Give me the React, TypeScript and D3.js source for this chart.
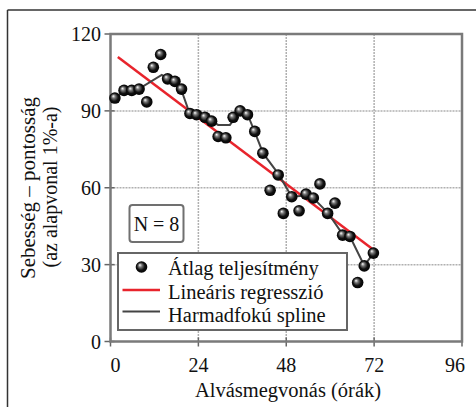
import React from "react";
import * as d3 from "d3";

const hours = [1.2, 3.7, 5.8, 7.8, 9.9, 11.7, 13.7, 15.6, 17.6, 19.4, 21.7, 23.5, 25.8, 27.6, 29.4, 31.5, 33.5, 35.4, 37.4, 39.4, 41.6, 43.6, 45.8, 47.2, 49.5, 51.5, 53.4, 55.4, 57.2, 59.3, 61.3, 63.4, 65.4, 67.5, 69.3, 71.8];
const performance = [95, 98, 98, 98.5, 93.5, 107, 112, 102.5, 101.5, 98.5, 89, 88.5, 87.5, 86, 80, 79.5, 87.5, 90, 88.5, 82, 73.5, 59, 65, 50, 56.5, 51, 57.5, 56, 61.5, 50, 54, 41.5, 41, 23, 29.5, 34.5];

const splineHours = [1.2, 3.5, 8, 14, 15.6, 17.6, 19.4, 21.6, 23.5, 25.8, 27.6, 29.4, 32.6, 35.4, 37.4, 39.2, 41.7, 45.8, 49.5, 53.4, 55.4, 59.5, 63.5, 65.4, 69.3, 71.8];
const splineValues = [95, 97.5, 98.8, 104, 102.7, 101.7, 98, 89, 88.5, 87.7, 86, 84.5, 84.5, 89.8, 88.7, 82.5, 73.4, 65.5, 56.5, 57, 56, 50, 41.6, 41, 29.6, 34.4];

const regressionHours = [2, 72];
const regressionValues = [111, 35.6];

const xTicks = [0, 24, 48, 72, 96];
const yTicks = [0, 30, 60, 90, 120];

const legendLabels = ["Átlag teljesítmény", "Lineáris regresszió", "Harmadfokú spline"];
const xLabel = "Alvásmegvonás (órák)";
const yLabel1 = "Sebesség – pontosság";
const yLabel2 = "(az alapvonal 1%-a)";
const nLabel = "N = 8";

const FONT = '"Liberation Serif", "Times New Roman", "DejaVu Serif", serif';

export default function App() {
  const x = d3.scaleLinear().domain([0, 96]).range([110.5, 462]);
  const y = d3.scaleLinear().domain([0, 120]).range([341.5, 34]);

  const line = d3
    .line<[number, number]>()
    .x((d) => x(d[0]))
    .y((d) => y(d[1]));

  const splinePath = line(splineHours.map((h, i) => [h, splineValues[i]]) as [number, number][]) || "";
  const regPath = line(regressionHours.map((h, i) => [h, regressionValues[i]]) as [number, number][]) || "";

  const [x0, x1] = x.range();
  const [y0, y1] = y.range();
  const ts = { fontFamily: FONT };

  return (
    <svg
      width={476}
      height={407}
      style={{ position: "absolute", left: 0, top: 0, background: "#fff", fontFamily: FONT }}
    >
      <defs>
        <radialGradient id="ball" cx="50%" cy="50%" r="55%" fx="35%" fy="32%">
          <stop offset="0%" stopColor="#ffffff" />
          <stop offset="28%" stopColor="#777" />
          <stop offset="62%" stopColor="#111" />
          <stop offset="100%" stopColor="#000" />
        </radialGradient>
      </defs>
      {/* outer frame */}
      <line x1={7.5} x2={476} y1={10} y2={10} stroke="#333" strokeWidth={1.5} />
      <line x1={7.5} x2={7.5} y1={10} y2={407} stroke="#333" strokeWidth={1.5} />

      {/* grid */}
      {xTicks.slice(1, -1).map((t) => (
        <line key={"gx" + t} x1={x(t)} x2={x(t)} y1={y1} y2={y0} stroke="#b0b0b0" strokeWidth={1.5} strokeDasharray="2,1" />
      ))}
      {yTicks.slice(1, -1).map((t) => (
        <line key={"gy" + t} x1={x0} x2={x1} y1={y(t)} y2={y(t)} stroke="#b0b0b0" strokeWidth={1.5} strokeDasharray="2,1" />
      ))}

      {/* ticks */}
      {yTicks.map((t) => (
        <line key={"ty" + t} x1={x0 - 6} x2={x0 + 4} y1={y(t)} y2={y(t)} stroke="#666" strokeWidth={1.5} />
      ))}
      {xTicks.map((t) => (
        <line key={"tx" + t} x1={x(t)} x2={x(t)} y1={y0 - 4} y2={y0 + 5} stroke="#666" strokeWidth={1.5} />
      ))}

      {/* frame */}
      <rect x={x0} y={y1} width={x1 - x0} height={y0 - y1} fill="none" stroke="#7a7a7a" strokeWidth={2.5} />

      {/* tick labels */}
      {yTicks.map((t) => (
        <text key={"ly" + t} x={101} y={y(t)} dy="0.35em" textAnchor="end" fontSize={20} fill="#111" style={ts}>
          {t}
        </text>
      ))}
      {xTicks.map((t, i) => (
        <text
          key={"lx" + t}
          x={x(t) + (i === 0 ? 5 : i === xTicks.length - 1 ? -7 : 0)}
          y={372}
          textAnchor="middle"
          fontSize={20}
          fill="#111"
          style={ts}
        >
          {t}
        </text>
      ))}

      {/* axis labels */}
      <text x={288} y={397} textAnchor="middle" fontSize={20.5} fill="#111" style={ts}>
        {xLabel}
      </text>
      <text transform={`translate(35,188) rotate(-90)`} textAnchor="middle" fontSize={21} fill="#111" style={ts}>
        {yLabel1}
      </text>
      <text transform={`translate(57,187) rotate(-90)`} textAnchor="middle" fontSize={20} fill="#111" style={ts}>
        {yLabel2}
      </text>

      {/* regression & spline */}
      <path d={regPath} fill="none" stroke="#e8242c" strokeWidth={2.5} />
      <path d={splinePath} fill="none" stroke="#444" strokeWidth={2} />

      {/* points */}
      {hours.map((h, i) => (
        <circle key={"p" + i} cx={x(h)} cy={y(performance[i])} r={5.8} fill="url(#ball)" />
      ))}

      {/* N box */}
      <rect x={129.5} y={205} width={54} height={37} rx={3} fill="#fff" stroke="#707070" strokeWidth={2} />
      <text x={156.5} y={231} textAnchor="middle" fontSize={20} fill="#111" style={ts}>
        {nLabel}
      </text>

      {/* legend */}
      <rect x={118} y={253} width={229} height={77} fill="#fff" stroke="#666" strokeWidth={2} />
      <circle cx={141.5} cy={267} r={5.8} fill="url(#ball)" />
      <line x1={122.5} x2={160} y1={290} y2={290} stroke="#e8242c" strokeWidth={2.5} />
      <line x1={122.5} x2={160} y1={311.5} y2={311.5} stroke="#444" strokeWidth={2} />
      {legendLabels.map((l, i) => (
        <text key={l} x={168} y={275 + i * 23.5} fontSize={20.5} fill="#111" style={ts}>
          {l}
        </text>
      ))}
    </svg>
  );
}
